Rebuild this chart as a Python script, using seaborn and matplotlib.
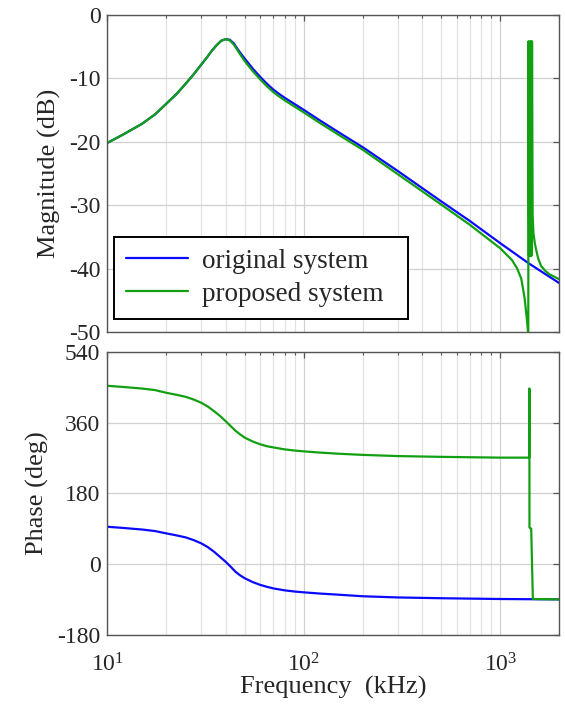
import matplotlib
matplotlib.use('Agg')
import matplotlib.pyplot as plt
import seaborn as sns
from matplotlib.ticker import LogLocator, NullFormatter

# values (frequency in kHz)
freq_orig_mag = [10, 12, 15, 17.5, 20, 22.5, 25, 27.5, 30, 32, 34, 36, 38, 40, 42, 44, 46,
                 48, 50, 55, 60, 65, 70, 75, 80, 90, 100, 120, 150, 200, 300, 400, 500,
                 700, 1000, 1400, 2000]
mag_orig = [-20.2, -18.9, -17.2, -15.7, -14.0, -12.5, -10.9, -9.4, -7.9, -6.8, -5.7, -4.8,
            -4.1, -3.85, -3.95, -4.5, -5.4, -6.2, -6.9, -8.5, -9.8, -10.9, -11.8, -12.5,
            -13.1, -14.1, -15.0, -16.6, -18.5, -20.9, -24.6, -27.3, -29.4, -32.5, -36.0,
            -39.2, -42.3]

freq_prop_mag = [10, 12, 15, 17.5, 20, 22.5, 25, 27.5, 30, 32, 34, 36, 38, 40, 42, 44, 46,
                 48, 50, 55, 60, 65, 70, 75, 80, 90, 100, 120, 150, 200, 300, 400, 500,
                 700, 1000, 1150, 1220, 1280, 1330, 1365, 1390,
                 1392, 1402, 1412, 1422, 1432, 1442, 1452, 1462, 1476, 1500, 1523, 1560,
                 1615, 1700, 1780, 2000]
mag_prop = [-20.2, -18.9, -17.2, -15.7, -14.0, -12.5, -10.9, -9.4, -7.9, -6.8, -5.7, -4.8,
            -4.1, -3.85, -4.05, -4.7, -5.6, -6.5, -7.3, -8.9, -10.2, -11.3, -12.2, -12.9,
            -13.5, -14.5, -15.4, -17.0, -18.9, -21.3, -25.1, -27.8, -29.9, -33.1, -36.8,
            -38.7, -40.0, -41.6, -44.6, -47.8, -50.5,
            -4.2, -38.0, -4.2, -38.0, -4.2, -38.0, -4.2, -31.5, -34.4, -36.0, -37.0, -38.4,
            -39.6, -40.4, -40.9, -41.7]

freq_orig_ph = [10, 12, 15, 17.5, 20, 22.5, 25, 27.5, 30, 32.5, 35, 37.5, 40, 42.5, 45,
                47.5, 50, 55, 60, 65, 70, 80, 90, 100, 120, 150, 200, 300, 500, 1000, 2000]
phase_orig = [95, 92, 88, 84, 78, 73, 68, 61, 53, 43, 31, 18, 6, -7, -20, -29, -36, -46,
              -53, -58, -62, -67, -70, -72, -75, -78, -82, -85, -87, -89, -90]

freq_prop_ph = [10, 12, 15, 17.5, 20, 22.5, 25, 27.5, 30, 32.5, 35, 37.5, 40, 42.5, 45,
                47.5, 50, 55, 60, 65, 70, 80, 90, 100, 120, 150, 200, 300, 500, 1000,
                1406, 1408, 1409, 1438, 1466, 2000]
phase_prop = [454, 451, 447, 443, 436, 431, 426, 419, 411, 401, 389, 377, 364, 351, 339,
              330, 322, 312, 305, 300, 297, 292, 289, 287, 284, 281, 278, 275, 273, 271,
              271, 447, 93, 90, -89, -90]

blue = '#0a0aff'
green = '#12a012'

sns.set_theme(style='white')
plt.rcParams['font.family'] = ['Liberation Serif', 'DejaVu Serif']
plt.rcParams['mathtext.fontset'] = 'custom'
plt.rcParams['mathtext.rm'] = 'Liberation Serif'
plt.rcParams['mathtext.it'] = 'Liberation Serif:italic'
plt.rcParams['axes.unicode_minus'] = False

fig = plt.figure(figsize=(5.65, 7.14), dpi=100)
ax1 = fig.add_axes([0.190, 0.535, 0.800, 0.4444])
ax2 = fig.add_axes([0.190, 0.111, 0.800, 0.396], sharex=ax1)

# magnitude
sns.lineplot(x=freq_orig_mag, y=mag_orig, ax=ax1, color=blue, lw=1.6,
             label='original system', sort=False, estimator=None)
sns.lineplot(x=freq_prop_mag, y=mag_prop, ax=ax1, color=green, lw=1.6,
             label='proposed system', sort=False, estimator=None)

# phase
sns.lineplot(x=freq_orig_ph, y=phase_orig, ax=ax2, color=blue, lw=1.6,
             sort=False, estimator=None, legend=False)
sns.lineplot(x=freq_prop_ph, y=phase_prop, ax=ax2, color=green, lw=1.6,
             sort=False, estimator=None, legend=False)

for ax in (ax1, ax2):
    ax.set_xscale('log')
    ax.set_xlim(10, 2000)
    ax.xaxis.set_major_locator(LogLocator(base=10))
    ax.xaxis.set_minor_locator(LogLocator(base=10, subs=range(2, 10)))
    ax.xaxis.set_minor_formatter(NullFormatter())
    ax.set_axisbelow(True)
    ax.grid(True, which='major', color='#d0d0d0', lw=0.9)
    ax.grid(True, which='minor', axis='x', color='#e2e2e2', lw=0.9)
    ax.tick_params(which='both', direction='in', top=True, right=True,
                   color='#555555', labelcolor='#262626', labelsize=17, pad=5)
    ax.tick_params(which='major', length=4, width=0.9)
    ax.tick_params(which='minor', length=2.5, width=0.8)
    for s in ax.spines.values():
        s.set_color('#555555')
        s.set_linewidth(1.0)

ax1.set_ylim(-50, 0)
ax1.set_yticks([-50, -40, -30, -20, -10, 0])
ax1.tick_params(labelbottom=False)
ax1.set_xlabel('')
ax1.set_ylabel('Magnitude (dB)', fontsize=19, color='#262626', labelpad=6)

ax2.set_ylim(-180, 540)
ax2.set_yticks([-180, 0, 180, 360, 540])
ax2.tick_params(axis='x', pad=13)
ax2.set_xlabel('Frequency  (kHz)', fontsize=19, color='#262626', labelpad=0)
ax2.set_ylabel('Phase (deg)', fontsize=19, color='#262626', labelpad=6)

leg = ax1.legend(loc='lower left', bbox_to_anchor=(0.0137, 0.041, 0.652, 0.25),
                 mode='expand', borderaxespad=0, fontsize=19.5, frameon=True,
                 fancybox=False, edgecolor='black', framealpha=1,
                 handlelength=2.3, handletextpad=0.5, labelspacing=0.3, borderpad=0.45)
leg.get_frame().set_linewidth(1.4)
for t in leg.get_texts():
    t.set_color('#262626')

fig.savefig('out.png', dpi=100)
